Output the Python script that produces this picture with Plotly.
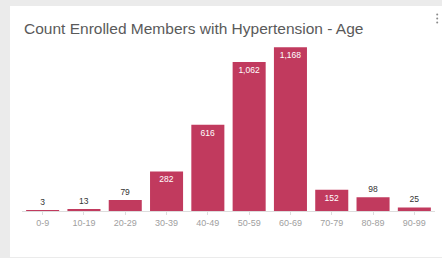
import plotly.graph_objects as go

categories = ["0-9", "10-19", "20-29", "30-39", "40-49", "50-59", "60-69", "70-79", "80-89", "90-99"]
counts = [3, 13, 79, 282, 616, 1062, 1168, 152, 98, 25]
title_text = "Count Enrolled Members with Hypertension - Age"

W, H = 442, 258
L, R, T, B = 22, 7, 45, 47
pw, ph = W - L - R, H - T - B

def px_x(x):
    return (x - L) / pw

def px_y(y):
    return (H - B - y) / ph

positions = ["inside" if v >= 150 else "outside" for v in counts]
colors = ["#ffffff" if p == "inside" else "#333333" for p in positions]

shapes = [dict(
    type="rect", xref="paper", yref="paper", layer="below",
    x0=px_x(10), x1=px_x(443), y0=px_y(257), y1=px_y(6),
    fillcolor="#ffffff", line=dict(width=0),
)]
for cy in (14.5, 18.5, 22.5):
    shapes.append(dict(
        type="circle", xref="paper", yref="paper",
        x0=px_x(436.2), x1=px_x(438.2), y0=px_y(cy + 1), y1=px_y(cy - 1),
        fillcolor="#8a8a8a", line=dict(width=0),
    ))

fig = go.Figure(go.Bar(
    x=categories, y=counts,
    marker=dict(color="#c13a5e", line=dict(width=0)),
    texttemplate="%{y:,}",
    textposition=positions,
    insidetextanchor="end",
    textfont=dict(size=8.5, color=colors, family="Liberation Sans"),
    cliponaxis=False,
    hoverinfo="x+y",
))

fig.update_layout(
    width=W, height=H,
    margin=dict(l=L, r=R, t=T, b=B),
    paper_bgcolor="#ebebeb",
    plot_bgcolor="rgba(0,0,0,0)",
    bargap=0.2,
    showlegend=False,
    font=dict(family="Liberation Sans", color="#555555"),
    xaxis=dict(
        showgrid=False, showline=True, linecolor="#dddddd", linewidth=1,
        ticks="outside", ticklen=3, tickcolor="#dddddd",
        tickfont=dict(size=9, color="#a0a0a0"),
        fixedrange=True,
    ),
    yaxis=dict(visible=False, range=[0, 1184], fixedrange=True),
    shapes=shapes,
    annotations=[
        dict(text=title_text, xref="paper", yref="paper",
             x=px_x(22), y=px_y(28), xanchor="left", yanchor="middle",
             showarrow=False, font=dict(size=15.5, color="#5a5a5a")),
    ],
)

fig.write_html(
    "out.html",
    config={"displayModeBar": False},
    post_script="document.body.style.margin='0';document.body.style.overflow='hidden';",
)
